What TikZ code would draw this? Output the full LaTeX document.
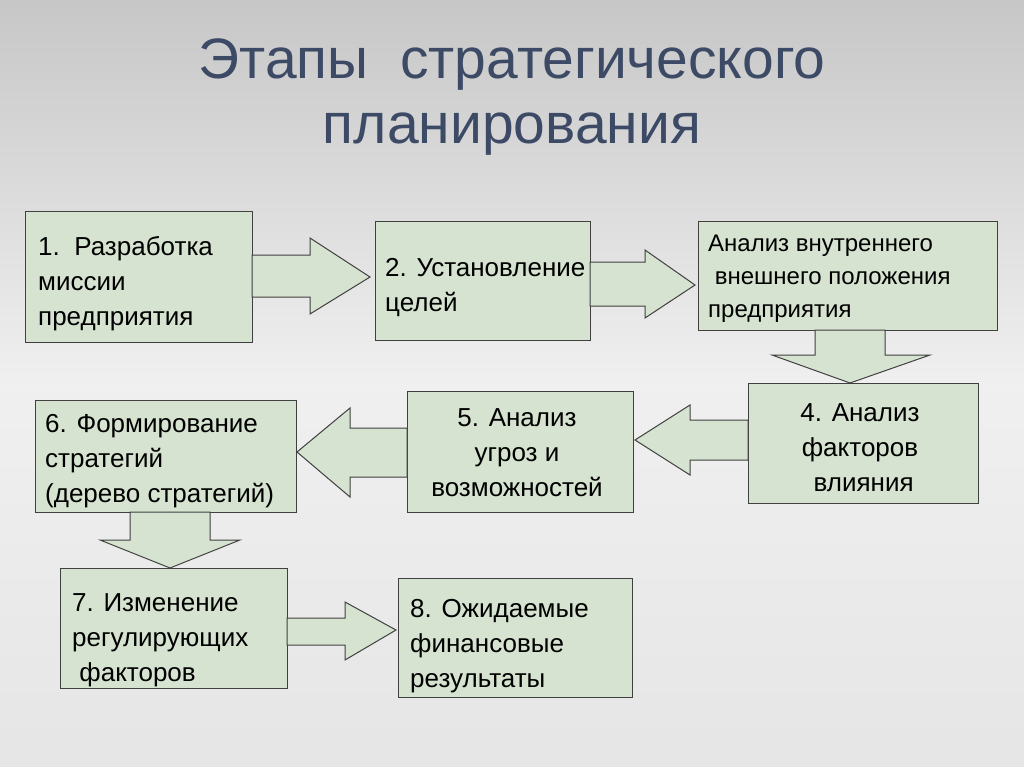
\documentclass[tikz,border=0pt]{standalone}
\usepackage{fontspec}
\setmainfont{Liberation Sans}
\begin{document}
\begin{tikzpicture}[x=1pt,y=-1pt,
  box/.style={draw=black!75,line width=1pt,fill=boxfill},
  txt/.style={align=left,anchor=base west,font=\fontsize{26}{35}\selectfont,inner sep=0pt},
  ctxt/.style={align=center,anchor=base,font=\fontsize{26}{35}\selectfont,inner sep=0pt},
  blk/.style={draw=black!75,line width=1pt,fill=boxfill,line join=miter}]
\definecolor{boxfill}{HTML}{D6E3D0}
\definecolor{titlec}{HTML}{3C4A66}
\shade[top color=black!22,bottom color=black!10,middle color=black!6] (0,0) rectangle (1024,767);
\useasboundingbox (0,0) rectangle (1024,767);
% title
\node[font=\fontsize{57}{65}\selectfont,text=titlec,align=center] (title) at (512,97) {Этапы\ \ стратегического\\планирования};
% boxes
\draw[box] (25,212) rectangle (252,342);
\draw[box] (375,222) rectangle (590,340);
\draw[box] (698,222) rectangle (997,330);
\draw[box] (748,383) rectangle (978,503);
\draw[box] (407,391) rectangle (633,512);
\draw[box] (35,400) rectangle (296,512);
\draw[box] (60,568) rectangle (287,688);
\draw[box] (398,578) rectangle (632,697);
% arrows
\draw[blk] (252,255)--(310,255)--(310,238)--(370,277)--(310,314)--(310,297)--(252,297)--cycle;
\draw[blk] (590,262)--(645,262)--(645,250)--(695,285)--(645,318)--(645,306)--(590,306)--cycle;
\draw[blk] (815,330)--(885,330)--(885,355)--(930,355)--(850,383)--(772,355)--(815,355)--cycle;
\draw[blk] (748,420)--(690,420)--(690,405)--(635,440)--(690,475)--(690,460)--(748,460)--cycle;
\draw[blk] (407,428)--(350,428)--(350,408)--(297,452)--(350,497)--(350,477)--(407,477)--cycle;
\draw[blk] (130,512)--(210,512)--(210,540)--(240,540)--(170,568)--(100,540)--(130,540)--cycle;
\draw[blk] (287,618)--(345,618)--(345,602)--(396,630)--(345,660)--(345,645)--(287,645)--cycle;
% texts (anchored at baseline of the last line)
\node[txt] (t1) at (38,325) {1.\ \ Разработка\\миссии\\предприятия};
\node[txt] (t2) at (385,311) {2. Установление\\целей};
\node[txt,font=\fontsize{24}{33}\selectfont] (t3) at (708,317) {Анализ внутреннего\\\ внешнего положения\\предприятия};
\node[ctxt] (t4) at (860,491) {4. Анализ\\факторов\\\ влияния};
\node[ctxt] (t5) at (517,496) {5. Анализ\\угроз и\\возможностей};
\node[txt] (t6) at (45,502) {6. Формирование\\стратегий\\(дерево стратегий)};
\node[txt] (t7) at (72,681) {7. Изменение\\регулирующих\\\ факторов};
\node[txt] (t8) at (410,687) {8. Ожидаемые\\финансовые\\результаты};
\end{tikzpicture}
\end{document}
